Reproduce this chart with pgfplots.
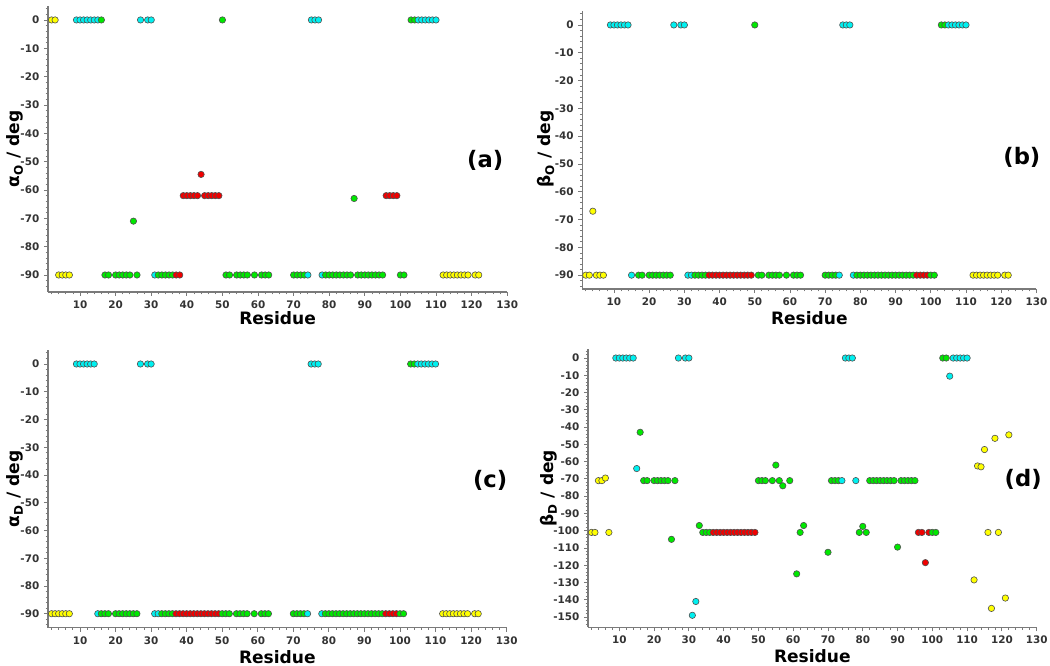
\documentclass[border=0pt]{standalone}
\usepackage{fontspec}
\setmainfont{DejaVu Sans}
\usepackage{pgfplots}
\usepackage{pgfplotstable}
\pgfplotsset{compat=1.18}

\definecolor{cY}{HTML}{FFFF00}
\definecolor{cC}{HTML}{00F0F0}
\definecolor{cG}{HTML}{00E800}
\definecolor{cR}{HTML}{F00000}
\definecolor{axgray}{HTML}{7A7A7A}
\definecolor{edge}{HTML}{505050}

% panel (a): alpha_O
\pgfplotstableread{
x y c
2 0 Y
3 0 Y
4 -90 Y
5 -90 Y
6 -90 Y
7 -90 Y
9 0 C
10 0 C
11 0 C
12 0 C
13 0 C
14 0 C
15 0 C
16 0 G
17 -90 G
18 -90 G
20 -90 G
21 -90 G
22 -90 G
23 -90 G
24 -90 G
25 -71 G
26 -90 G
27 0 C
29 0 C
30 0 C
31 -90 C
32 -90 G
33 -90 G
34 -90 G
35 -90 G
36 -90 G
37 -90 R
38 -90 R
39 -62 R
40 -62 R
41 -62 R
42 -62 R
43 -62 R
44 -54.5 R
45 -62 R
46 -62 R
47 -62 R
48 -62 R
49 -62 R
50 0 G
51 -90 G
52 -90 G
54 -90 G
55 -90 G
56 -90 G
57 -90 G
59 -90 G
61 -90 G
62 -90 G
63 -90 G
70 -90 G
71 -90 G
72 -90 G
73 -90 G
74 -90 C
75 0 C
76 0 C
77 0 C
78 -90 C
79 -90 G
80 -90 G
81 -90 G
82 -90 G
83 -90 G
84 -90 G
85 -90 G
86 -90 G
87 -63 G
88 -90 G
89 -90 G
90 -90 G
91 -90 G
92 -90 G
93 -90 G
94 -90 G
95 -90 G
96 -62 R
97 -62 R
98 -62 R
99 -62 R
100 -90 G
101 -90 G
103 0 G
104 0 G
105 0 C
106 0 C
107 0 C
108 0 C
109 0 C
110 0 C
112 -90 Y
113 -90 Y
114 -90 Y
115 -90 Y
116 -90 Y
117 -90 Y
118 -90 Y
119 -90 Y
121 -90 Y
122 -90 Y
}\tableA

% panel (b): beta_O
\pgfplotstableread{
x y c
2 -90 Y
3 -90 Y
4 -67 Y
5 -90 Y
6 -90 Y
7 -90 Y
9 0 C
10 0 C
11 0 C
12 0 C
13 0 C
14 0 C
15 -90 C
17 -90 G
18 -90 G
20 -90 G
21 -90 G
22 -90 G
23 -90 G
24 -90 G
25 -90 G
26 -90 G
27 0 C
29 0 C
30 0 C
31 -90 C
32 -90 C
33 -90 G
34 -90 G
35 -90 G
36 -90 G
37 -90 R
38 -90 R
39 -90 R
40 -90 R
41 -90 R
42 -90 R
43 -90 R
44 -90 R
45 -90 R
46 -90 R
47 -90 R
48 -90 R
49 -90 R
50 0 G
51 -90 G
52 -90 G
54 -90 G
55 -90 G
56 -90 G
57 -90 G
59 -90 G
61 -90 G
62 -90 G
63 -90 G
70 -90 G
71 -90 G
72 -90 G
73 -90 G
74 -90 C
75 0 C
76 0 C
77 0 C
78 -90 C
79 -90 G
80 -90 G
81 -90 G
82 -90 G
83 -90 G
84 -90 G
85 -90 G
86 -90 G
87 -90 G
88 -90 G
89 -90 G
90 -90 G
91 -90 G
92 -90 G
93 -90 G
94 -90 G
95 -90 G
96 -90 R
97 -90 R
98 -90 R
99 -90 R
100 -90 G
101 -90 G
103 0 G
104 0 G
105 0 C
106 0 C
107 0 C
108 0 C
109 0 C
110 0 C
112 -90 Y
113 -90 Y
114 -90 Y
115 -90 Y
116 -90 Y
117 -90 Y
118 -90 Y
119 -90 Y
121 -90 Y
122 -90 Y
}\tableB

% panel (c): alpha_D
\pgfplotstableread{
x y c
2 -90 Y
3 -90 Y
4 -90 Y
5 -90 Y
6 -90 Y
7 -90 Y
9 0 C
10 0 C
11 0 C
12 0 C
13 0 C
14 0 C
15 -90 C
16 -90 G
17 -90 G
18 -90 G
20 -90 G
21 -90 G
22 -90 G
23 -90 G
24 -90 G
25 -90 G
26 -90 G
27 0 C
29 0 C
30 0 C
31 -90 C
32 -90 C
33 -90 G
34 -90 G
35 -90 G
36 -90 G
37 -90 R
38 -90 R
39 -90 R
40 -90 R
41 -90 R
42 -90 R
43 -90 R
44 -90 R
45 -90 R
46 -90 R
47 -90 R
48 -90 R
49 -90 R
50 -90 G
51 -90 G
52 -90 G
54 -90 G
55 -90 G
56 -90 G
57 -90 G
59 -90 G
61 -90 G
62 -90 G
63 -90 G
70 -90 G
71 -90 G
72 -90 G
73 -90 G
74 -90 C
75 0 C
76 0 C
77 0 C
78 -90 C
79 -90 G
80 -90 G
81 -90 G
82 -90 G
83 -90 G
84 -90 G
85 -90 G
86 -90 G
87 -90 G
88 -90 G
89 -90 G
90 -90 G
91 -90 G
92 -90 G
93 -90 G
94 -90 G
95 -90 G
96 -90 R
97 -90 R
98 -90 R
99 -90 R
100 -90 G
101 -90 G
103 0 G
104 0 G
105 0 C
106 0 C
107 0 C
108 0 C
109 0 C
110 0 C
112 -90 Y
113 -90 Y
114 -90 Y
115 -90 Y
116 -90 Y
117 -90 Y
118 -90 Y
119 -90 Y
121 -90 Y
122 -90 Y
}\tableC

% panel (d): beta_D
\pgfplotstableread{
x y c
2 -101 Y
3 -101 Y
4 -71 Y
5 -71 Y
6 -69.5 Y
7 -101 Y
9 0 C
10 0 C
11 0 C
12 0 C
13 0 C
14 0 C
15 -64 C
16 -43 G
17 -71 G
18 -71 G
20 -71 G
21 -71 G
22 -71 G
23 -71 G
24 -71 G
25 -105 G
26 -71 G
27 0 C
29 0 C
30 0 C
31 -149 C
32 -141 C
33 -97 G
34 -101 G
35 -101 G
36 -101 G
37 -101 R
38 -101 R
39 -101 R
40 -101 R
41 -101 R
42 -101 R
43 -101 R
44 -101 R
45 -101 R
46 -101 R
47 -101 R
48 -101 R
49 -101 R
50 -71 G
51 -71 G
52 -71 G
54 -71 G
55 -62 G
56 -71 G
57 -74 G
59 -71 G
61 -125 G
62 -101 G
63 -97 G
70 -112.5 G
71 -71 G
72 -71 G
73 -71 G
74 -71 C
75 0 C
76 0 C
77 0 C
78 -71 C
79 -101 G
80 -97.5 G
81 -101 G
82 -71 G
83 -71 G
84 -71 G
85 -71 G
86 -71 G
87 -71 G
88 -71 G
89 -71 G
90 -109.5 G
91 -71 G
92 -71 G
93 -71 G
94 -71 G
95 -71 G
96 -101 R
97 -101 R
98 -118.5 R
99 -101 R
100 -101 G
101 -101 G
103 0 G
104 0 G
105 -10.5 C
106 0 C
107 0 C
108 0 C
109 0 C
110 0 C
112 -128.5 Y
113 -62.5 Y
114 -63 Y
115 -53 Y
116 -101 Y
117 -145 Y
118 -46.5 Y
119 -101 Y
121 -139 Y
122 -44.5 Y
}\tableD

\pgfplotsset{
  panel/.style={
    scale only axis, anchor=south west, clip=false,
    axis lines=left,
    axis line style={-, draw=axgray, line width=0.9pt},
    xmin=1, xmax=130,
    xtick={10,20,...,130},
    minor xtick={2,4,...,128},
    tick align=outside,
    major tick length=3pt, minor tick length=1.8pt,
    every tick/.style={draw=axgray, line width=0.6pt},
    tick label style={font=\bfseries\fontsize{7.8}{9}\selectfont, text=black!80},
    /pgf/number format/assume math mode=true,
    xlabel={Residue},
    label style={font=\bfseries\fontsize{12.8}{14}\selectfont},
  },
  dots/.style={
    scatter, only marks, mark=*, mark size=2.4pt,
    scatter src=explicit symbolic,
    mark options={line width=0.45pt},
    scatter/classes={
      Y={fill=cY, draw=edge},
      C={fill=cC, draw=edge},
      G={fill=cG, draw=edge},
      R={fill=cR, draw=edge}
    },
  },
}
\tikzset{plab/.style={font=\bfseries\fontsize{17}{20}\selectfont, anchor=center}}

\begin{document}
\begin{tikzpicture}
\useasboundingbox (0,0) rectangle (787.5pt,499.5pt);

% (a)
\begin{axis}[panel, at={(36pt,280.5pt)}, width=344.4pt, height=214.65pt,
  ymin=-96, ymax=5, ytick={0,-10,...,-90}, minor ytick={-94,-92,...,4},
  ylabel={α\textsubscript{O} / deg},
  xlabel style={at={(axis description cs:0.5,-0.091)}, anchor=center},
  ylabel style={at={(axis description cs:-0.072,0.5)}, anchor=center}]
\addplot[dots] table[x=x, y=y, meta=c] {\tableA};
\node[plab] at (rel axis cs:0.952,0.461) {(a)};
\end{axis}

% (b)
\begin{axis}[panel, at={(436.7pt,282.7pt)}, width=340.6pt, height=208.5pt,
  ymin=-95, ymax=5, ytick={0,-10,...,-90}, minor ytick={-94,-92,...,4},
  ylabel={β\textsubscript{O} / deg},
  xlabel style={at={(axis description cs:0.5,-0.104)}, anchor=center},
  ylabel style={at={(axis description cs:-0.080,0.504)}, anchor=center}]
\addplot[dots] table[x=x, y=y, meta=c] {\tableB};
\node[plab] at (rel axis cs:0.968,0.472) {(b)};
\end{axis}

% (c)
\begin{axis}[panel, at={(36pt,28.8pt)}, width=344pt, height=208.1pt,
  ymin=-95, ymax=5, ytick={0,-10,...,-90}, minor ytick={-94,-92,...,4},
  ylabel={α\textsubscript{D} / deg},
  xlabel style={at={(axis description cs:0.5,-0.106)}, anchor=center},
  ylabel style={at={(axis description cs:-0.072,0.5)}, anchor=center}]
\addplot[dots] table[x=x, y=y, meta=c] {\tableC};
\node[plab] at (rel axis cs:0.964,0.532) {(c)};
\end{axis}

% (d)
\begin{axis}[panel, at={(441pt,28.95pt)}, width=336.5pt, height=208.5pt,
  ymin=-156, ymax=5, ytick={0,-10,...,-150}, minor ytick={-154,-152,...,4},
  ylabel={β\textsubscript{D} / deg},
  xlabel style={at={(axis description cs:0.5,-0.103)}, anchor=center},
  ylabel style={at={(axis description cs:-0.087,0.5)}, anchor=center}]
\addplot[dots] table[x=x, y=y, meta=c] {\tableD};
\node[plab] at (rel axis cs:0.970,0.534) {(d)};
\end{axis}
\end{tikzpicture}
\end{document}
